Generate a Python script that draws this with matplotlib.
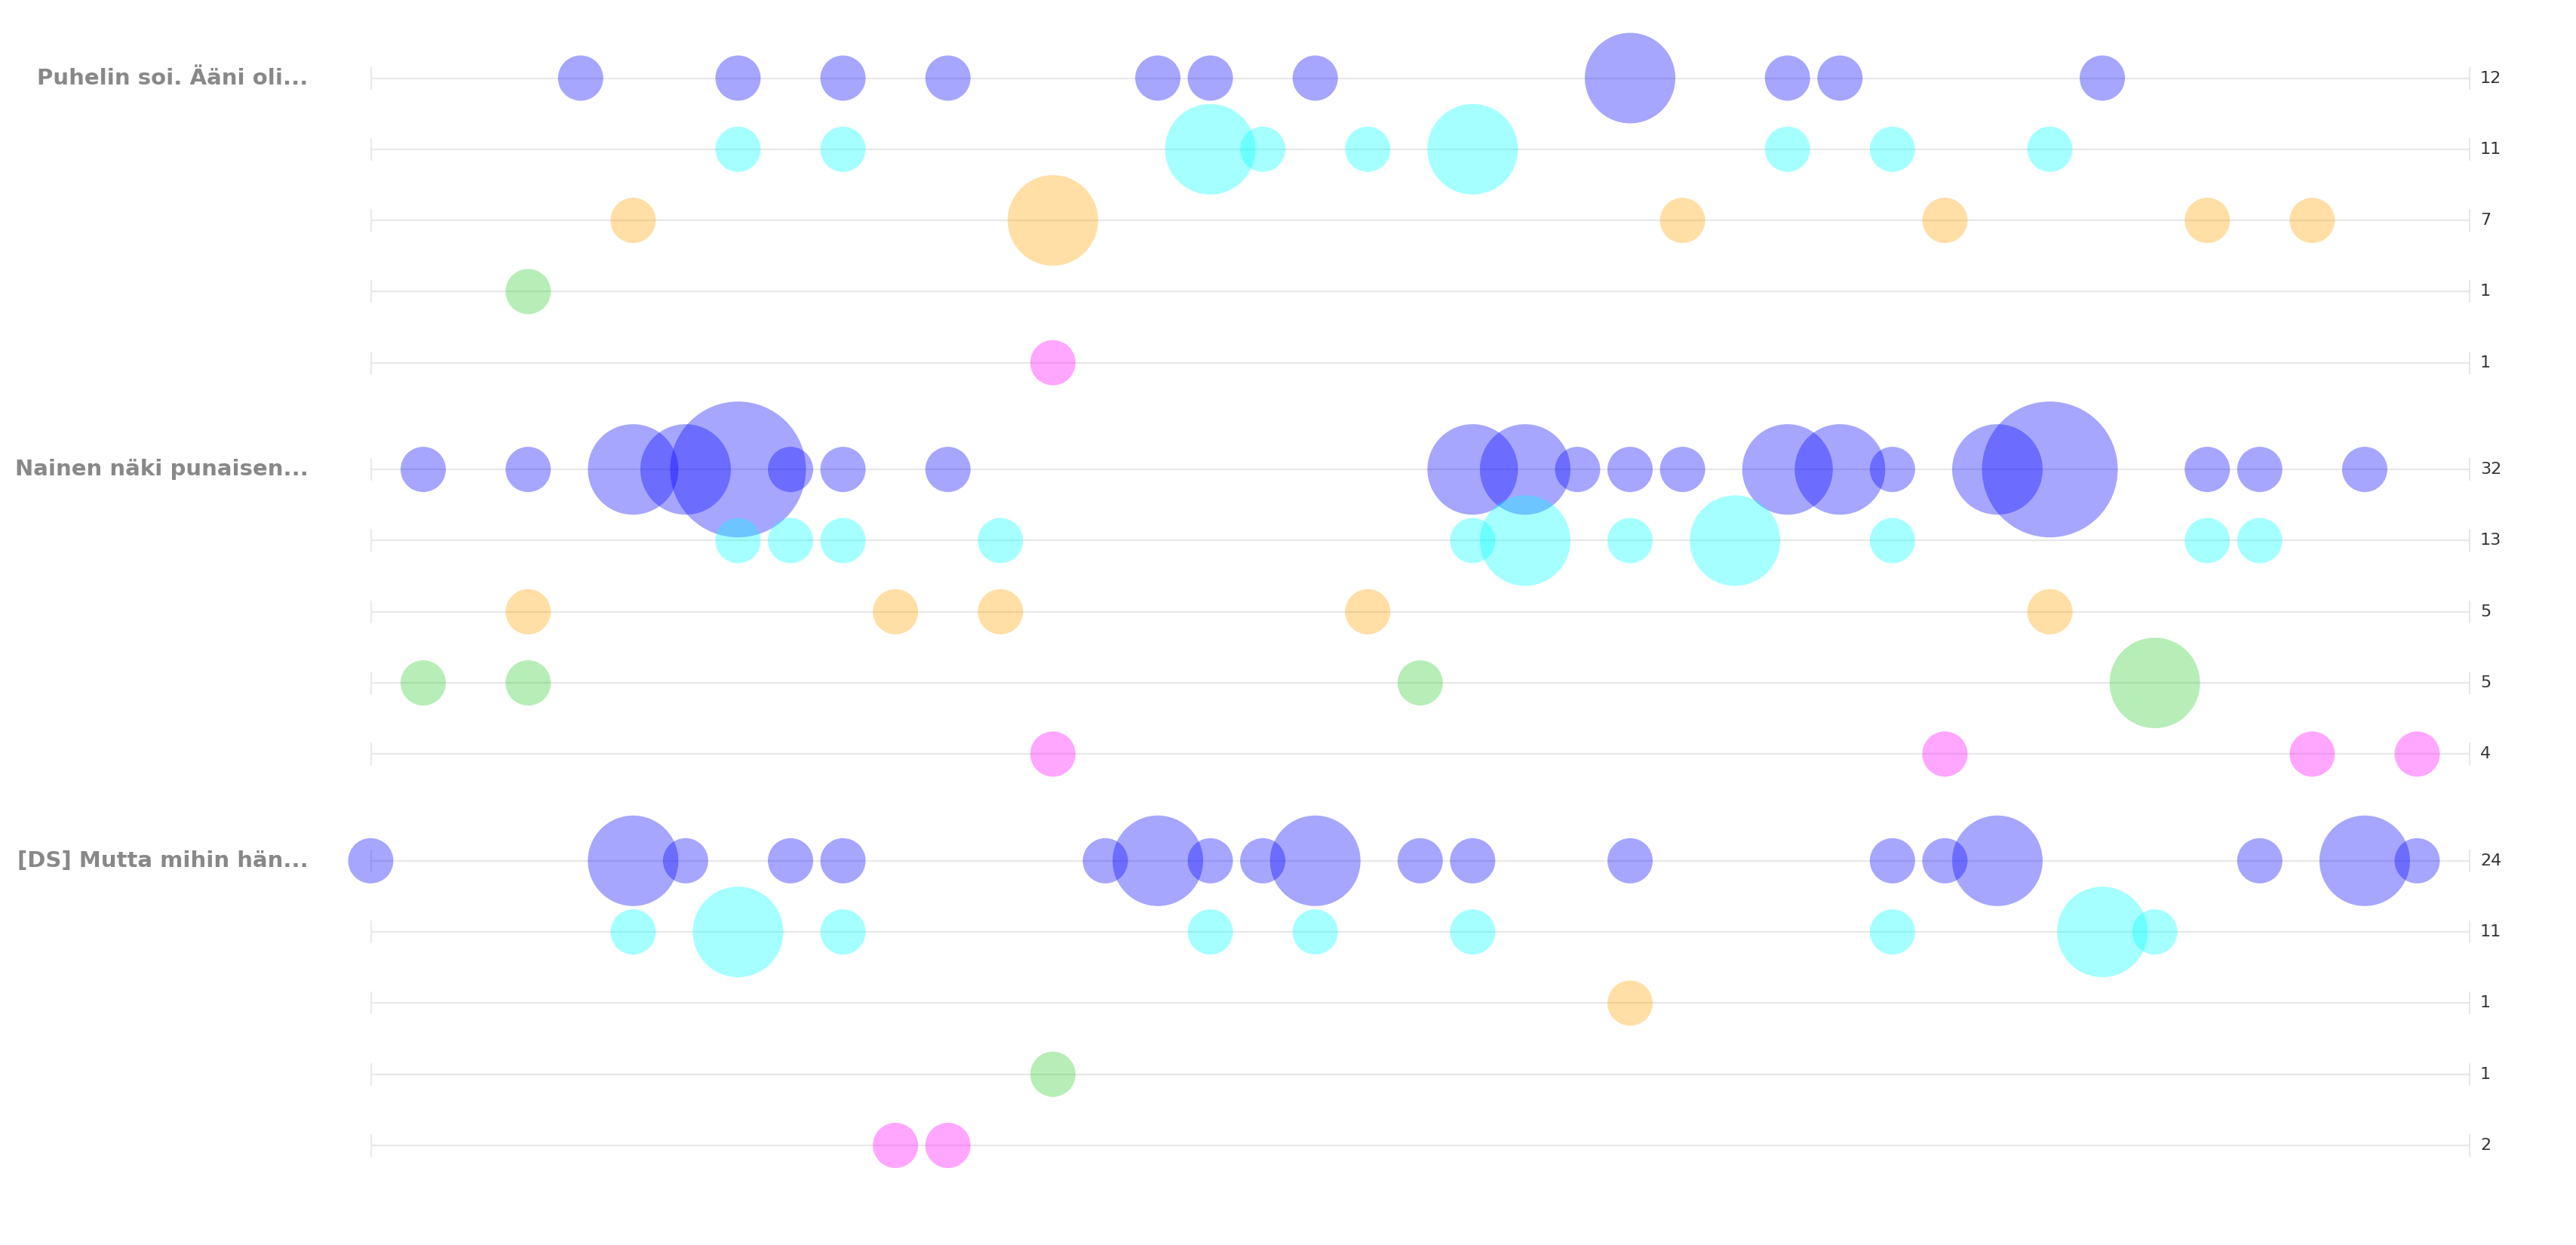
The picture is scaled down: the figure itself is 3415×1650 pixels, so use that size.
import matplotlib
matplotlib.use('Agg')
import matplotlib.pyplot as plt

# kysymykset (ryhmät) ja rivien värit
questions = ['Puhelin soi. Ääni oli...', 'Nainen näki punaisen...', '[DS] Mutta mihin hän...']
row_colors = ['#0000ff', '#00ffff', '#ffa500', '#32cd32', '#ff00ff']
n_slots = 40

# paikka -> lukumäärä, yksi sanakirja per rivi
q1_blue = {4: 1, 7: 1, 9: 1, 11: 1, 15: 1, 16: 1, 18: 1, 24: 2, 27: 1, 28: 1, 33: 1}
q1_cyan = {7: 1, 9: 1, 16: 2, 17: 1, 19: 1, 21: 2, 27: 1, 29: 1, 32: 1}
q1_orange = {5: 1, 13: 2, 25: 1, 30: 1, 35: 1, 37: 1}
q1_green = {3: 1}
q1_magenta = {13: 1}

q2_blue = {1: 1, 3: 1, 5: 2, 6: 2, 7: 3, 8: 1, 9: 1, 11: 1, 21: 2, 22: 2, 23: 1, 24: 1,
           25: 1, 27: 2, 28: 2, 29: 1, 31: 2, 32: 3, 35: 1, 36: 1, 38: 1}
q2_cyan = {7: 1, 8: 1, 9: 1, 12: 1, 21: 1, 22: 2, 24: 1, 26: 2, 29: 1, 35: 1, 36: 1}
q2_orange = {3: 1, 10: 1, 12: 1, 19: 1, 32: 1}
q2_green = {1: 1, 3: 1, 20: 1, 34: 2}
q2_magenta = {13: 1, 30: 1, 37: 1, 39: 1}

q3_blue = {0: 1, 5: 2, 6: 1, 8: 1, 9: 1, 14: 1, 15: 2, 16: 1, 17: 1, 18: 2, 20: 1, 21: 1,
           24: 1, 29: 1, 30: 1, 31: 2, 36: 1, 38: 2, 39: 1}
q3_cyan = {5: 1, 7: 2, 9: 1, 16: 1, 18: 1, 21: 1, 29: 1, 33: 2, 34: 1}
q3_orange = {24: 1}
q3_green = {13: 1}
q3_magenta = {10: 1, 11: 1}

groups = [
    [q1_blue, q1_cyan, q1_orange, q1_green, q1_magenta],
    [q2_blue, q2_cyan, q2_orange, q2_green, q2_magenta],
    [q3_blue, q3_cyan, q3_orange, q3_green, q3_magenta],
]

W, H, DPI = 3415, 1650, 100
x0_px, x1_px = 491.5, 3274.0
y0_px, row_px = 103.5, 94.3
unit = n_slots / (x1_px - x0_px)

fig = plt.figure(figsize=(W / DPI, H / DPI), dpi=DPI)
ax = fig.add_axes([0, 0, 1, 1])
ax.set_xlim(-x0_px * unit, n_slots + (W - x1_px) * unit)
ax.set_ylim((H - y0_px) / row_px, -y0_px / row_px)
ax.axis('off')

px2pt = 72 / DPI
for gi, group in enumerate(groups):
    base = gi * 5.5
    for ri, row in enumerate(group):
        y = base + ri
        ax.hlines(y, 0, n_slots, color='#e8e8e8', lw=1.6, zorder=1)
        ax.plot([0, n_slots], [y, y], ls='none', marker='|', ms=30 * px2pt,
                mew=1.5, color='#e8e8e8', zorder=1)
        xs = list(row.keys())
        vs = list(row.values())
        sizes = [(60 * v * px2pt) ** 2 for v in vs]
        ax.scatter(xs, [y] * len(xs), s=sizes, color=row_colors[ri], alpha=0.35,
                   edgecolors='none', zorder=2)
        ax.annotate(str(sum(vs)), xy=(n_slots, y), xytext=(14 * px2pt, 0),
                    textcoords='offset points', ha='left', va='center',
                    fontsize=16, color='#333333')
    ax.annotate(questions[gi], xy=(0, base), xytext=(-83 * px2pt, 0),
                textcoords='offset points', ha='right', va='center',
                fontsize=21, fontweight='bold', color='#888888')

fig.savefig('out.png', dpi=DPI)
